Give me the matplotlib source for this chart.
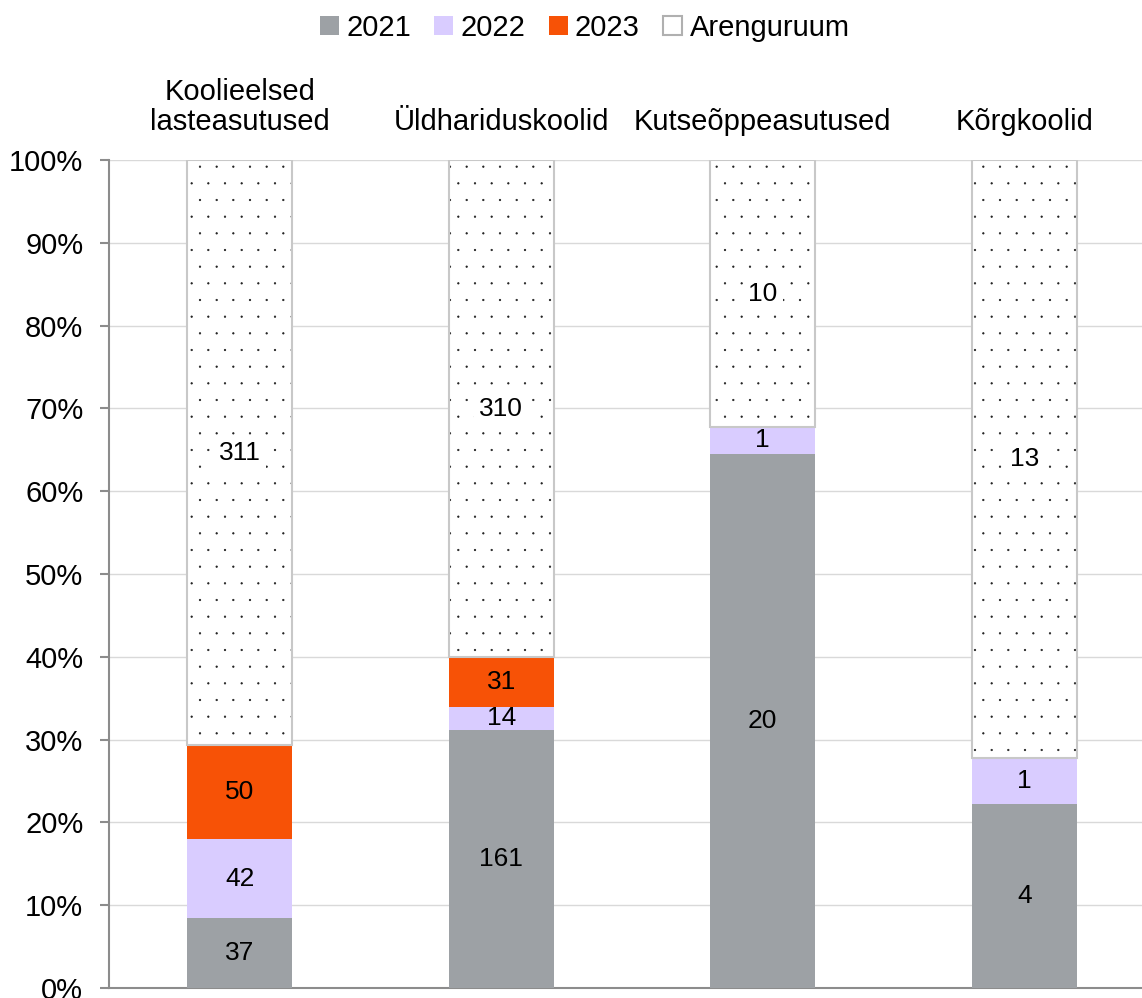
import matplotlib
matplotlib.use("Agg")
import matplotlib.pyplot as plt
import matplotlib.hatch as mhatch
import numpy as np
from matplotlib.patches import Patch

plt.rcParams['font.family'] = ['Liberation Sans', 'DejaVu Sans']
plt.rcParams['hatch.linewidth'] = 0.5


class TinyFilledCircles(mhatch.Circles):
    size = 0.045
    filled = True

    def __init__(self, hatch, density):
        self.num_rows = (hatch.count('.')) * density
        super().__init__(hatch, density)


mhatch._hatch_types = [TinyFilledCircles if t is mhatch.SmallFilledCircles else t
                       for t in mhatch._hatch_types]

categories = ["Koolieelsed\nlasteasutused", "Üldhariduskoolid", "Kutseõppeasutused", "Kõrgkoolid"]
series_names = ["2021", "2022", "2023", "Arenguruum"]
v2021 = [37, 161, 20, 4]
v2022 = [42, 14, 1, 1]
v2023 = [50, 31, 0, 0]
varenguruum = [311, 310, 10, 13]

colors = ["#9da1a5", "#d9ccff", "#f75206", "white"]

series = [np.array(v2021, float), np.array(v2022, float), np.array(v2023, float), np.array(varenguruum, float)]
totals = sum(series)

fig = plt.figure(figsize=(11.42, 9.98), dpi=100)
ax = fig.add_axes([109/1142, 10/998, 1033/1142, 828/998])

x = np.arange(len(categories))
width = 0.40
bottom = np.zeros(len(categories))
for i, (name, vals) in enumerate(zip(series_names, series)):
    pct = vals / totals * 100
    if name == "Arenguruum":
        ax.bar(x, pct, width, bottom=bottom, color="white", edgecolor="#202020",
               linewidth=0, hatch=".", zorder=3)
        ax.bar(x, pct, width, bottom=bottom, fill=False, edgecolor="#c8c8c8",
               linewidth=1.5, zorder=4)
    else:
        ax.bar(x, pct, width, bottom=bottom, color=colors[i], linewidth=0, zorder=3)
    for xi, v, b, p in zip(x, vals, bottom, pct):
        if v > 0:
            ax.text(xi, b + p / 2, f"{int(v)}", ha="center", va="center",
                    fontsize=19, color="black", zorder=6,
                    bbox=dict(facecolor="white", edgecolor="none", pad=4) if name == "Arenguruum" else None)
    bottom = bottom + pct

ax.set_ylim(0, 100)
ax.set_xlim(-0.5, 3.45)
ax.set_yticks(np.arange(0, 101, 10))
ax.set_yticklabels([f"{t}%" for t in range(0, 101, 10)], fontsize=21)
ax.yaxis.grid(True, color="#d9d9d9", linewidth=1, zorder=0)
ax.set_axisbelow(True)

ax.xaxis.tick_top()
ax.set_xticks(x)
ax.set_xticklabels(categories, fontsize=21, linespacing=1.1)
ax.tick_params(axis="x", length=0, pad=17)
ax.tick_params(axis="y", length=6.5, width=1.5, color="#8c8c8c", pad=12)

for s in ["top", "right"]:
    ax.spines[s].set_visible(False)
for s in ["left", "bottom"]:
    ax.spines[s].set_color("#8c8c8c")
    ax.spines[s].set_linewidth(1.5)

handles = [
    Patch(facecolor=colors[0], edgecolor="none", label="2021"),
    Patch(facecolor=colors[1], edgecolor="none", label="2022"),
    Patch(facecolor=colors[2], edgecolor="none", label="2023"),
    Patch(facecolor="white", edgecolor="#b0b0b0", linewidth=1.5, label="Arenguruum"),
]
leg = fig.legend(handles=handles, loc="center", bbox_to_anchor=(0.512, 0.972), ncol=4,
                 frameon=False, fontsize=21, handlelength=0.65, handleheight=0.65,
                 handletextpad=0.25, columnspacing=0.8)

fig.savefig("out.png", dpi=100)
